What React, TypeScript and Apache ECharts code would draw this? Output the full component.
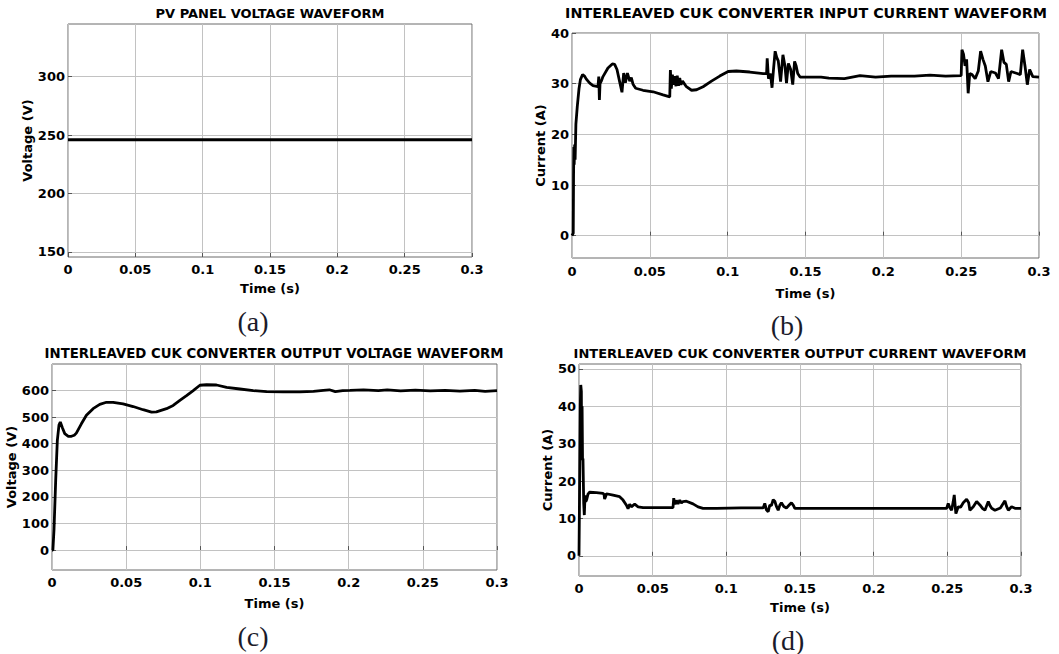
import React, { useEffect, useRef } from "react";
import * as echarts from "echarts";

// ---------- data ----------
const timeTicks = [0, 0.05, 0.1, 0.15, 0.2, 0.25, 0.3];

const pvVoltageTicks = [150, 200, 250, 300];
const pvVoltage: [number, number][] = [
  [0, 246],
  [0.3, 246],
];

const inputCurrentTicks = [0, 10, 20, 30, 40];
const inputCurrent: [number, number][] = [
  [0, 0], [0.0008, 0.5], [0.001, 12], [0.0012, 17.5], [0.0014, 14], [0.0017, 18], [0.002, 15],
  [0.0025, 22], [0.0034, 25.5], [0.0045, 29], [0.0054, 30.8], [0.0068, 31.8], [0.008, 31.5],
  [0.0092, 30.9], [0.0114, 30.1], [0.0135, 29.6], [0.0167, 29.4], [0.0172, 31.4], [0.0176, 26.8],
  [0.018, 30], [0.0188, 30.5], [0.0199, 31.4], [0.0231, 33.1], [0.0259, 33.9], [0.0274, 33.8],
  [0.0289, 32.8], [0.0306, 30.4], [0.0321, 28.3], [0.0332, 32.1], [0.0343, 30.2], [0.0356, 32.1],
  [0.0371, 30.5], [0.0381, 31.2], [0.0392, 29.9], [0.0409, 29.1], [0.0456, 28.7], [0.0521, 28.4],
  [0.0585, 27.8], [0.0628, 27.4], [0.0632, 32.7], [0.0638, 29], [0.0645, 31.8], [0.0652, 29.8],
  [0.066, 31.5], [0.0668, 29.5], [0.0676, 31.6], [0.0684, 29.6], [0.0692, 31.1], [0.07, 29.8],
  [0.071, 30.5], [0.0735, 29.4], [0.0768, 28.7], [0.08, 28.8], [0.0842, 29.4], [0.0896, 30.5],
  [0.0949, 31.5], [0.1003, 32.4], [0.1056, 32.5], [0.1142, 32.3], [0.1228, 32], [0.125, 32],
  [0.1254, 35], [0.1262, 31], [0.1275, 32], [0.1285, 29.2], [0.1295, 33], [0.1305, 36.4],
  [0.1315, 35.2], [0.1325, 34.5], [0.134, 30.4], [0.1355, 35.7], [0.1368, 33.5], [0.1378, 30.1],
  [0.139, 34], [0.1405, 32.8], [0.1418, 29.8], [0.143, 34.4], [0.144, 33.5], [0.145, 32],
  [0.1465, 31.3], [0.16, 31.3], [0.165, 31.1], [0.175, 31.0], [0.185, 31.6], [0.195, 31.3],
  [0.205, 31.5], [0.22, 31.5], [0.23, 31.7], [0.24, 31.5], [0.25, 31.6], [0.2505, 36.7],
  [0.2515, 35.8], [0.2525, 33.5], [0.2535, 34.8], [0.2545, 28.1], [0.2555, 32], [0.257, 31.8],
  [0.259, 31], [0.261, 32.5], [0.2625, 36.4], [0.264, 34.8], [0.2655, 33.5], [0.2672, 30.4],
  [0.269, 32.4], [0.272, 32.1], [0.274, 31], [0.276, 36.7], [0.2775, 34.2], [0.279, 33.8],
  [0.2805, 30.4], [0.282, 32.4], [0.286, 32], [0.288, 31.8], [0.2895, 36.7], [0.291, 33.5],
  [0.2925, 29.8], [0.294, 32.8], [0.296, 31.4], [0.3, 31.3],
];

const outputVoltageTicks = [0, 100, 200, 300, 400, 500, 600];
const outputVoltage: [number, number][] = [
  [0, 0], [0.0006, 0], [0.00135, 77], [0.0025, 264], [0.0036, 413], [0.0047, 470], [0.0056, 482],
  [0.007, 460], [0.0086, 438], [0.011, 428], [0.0131, 428], [0.015, 432], [0.0164, 440],
  [0.0198, 475], [0.0232, 507], [0.0277, 532], [0.0322, 548], [0.0367, 556], [0.0412, 556],
  [0.0479, 550], [0.0547, 540], [0.0614, 528], [0.0671, 519], [0.0704, 520], [0.0772, 532],
  [0.0817, 544], [0.0862, 563], [0.0907, 581], [0.0952, 600], [0.0997, 620], [0.1042, 622],
  [0.1109, 621], [0.1177, 612], [0.1267, 606], [0.1357, 600], [0.1447, 596], [0.1559, 595],
  [0.1672, 595], [0.1762, 597], [0.1829, 601], [0.187, 603], [0.191, 596], [0.196, 600],
  [0.2009, 601], [0.21, 603], [0.22, 600], [0.226, 603], [0.235, 599], [0.245, 602],
  [0.255, 599], [0.265, 601], [0.275, 598], [0.285, 601], [0.292, 597], [0.3, 600],
];

const outputCurrentTicks = [0, 10, 20, 30, 40, 50];
const outputCurrent: [number, number][] = [
  [0, 0], [0.00045, 0], [0.0009, 40.4], [0.0012, 45.7], [0.0016, 44], [0.0018, 25.6], [0.0021, 40],
  [0.0024, 25.6], [0.0027, 26], [0.0032, 14], [0.0036, 10.9], [0.0041, 16.2], [0.0046, 14.5],
  [0.0052, 15], [0.0061, 16.5], [0.0072, 17], [0.0118, 16.9], [0.0163, 16.7], [0.017, 16.4],
  [0.0174, 15.2], [0.018, 15.8], [0.0186, 16.6], [0.0231, 16.2], [0.0276, 15.8], [0.0299, 14.9],
  [0.0321, 13.6], [0.0333, 12.6], [0.0344, 13.8], [0.0355, 13.1], [0.0378, 13.8], [0.0401, 13.1],
  [0.0435, 12.9], [0.0571, 12.9], [0.0638, 12.9], [0.0643, 15.4], [0.0652, 13.8], [0.0661, 14.8],
  [0.0672, 13.9], [0.0684, 14.9], [0.0695, 14.1], [0.0706, 14.5], [0.0729, 14.6], [0.0774, 13.9],
  [0.0808, 13.1], [0.0842, 12.7], [0.0933, 12.7], [0.11, 12.8], [0.125, 12.8], [0.1261, 14],
  [0.1272, 12.3], [0.1284, 11.8], [0.1295, 13.6], [0.1306, 13.4], [0.1318, 15], [0.1329, 14.6],
  [0.134, 13.2], [0.1352, 12.2], [0.1363, 13.5], [0.1374, 14.2], [0.139, 13.2], [0.1408, 12.8],
  [0.1425, 13.5], [0.1442, 14.2], [0.1455, 13.5], [0.1465, 12.7], [0.1589, 12.7], [0.18, 12.7],
  [0.2, 12.7], [0.22, 12.7], [0.2495, 12.7], [0.2506, 14], [0.2518, 12.8], [0.2529, 12.2],
  [0.254, 14.5], [0.2547, 16.3], [0.2553, 13.5], [0.2558, 11.3], [0.2574, 13.1], [0.259, 13],
  [0.2608, 14.2], [0.2631, 15.1], [0.2645, 14.2], [0.2653, 12.2], [0.2676, 13.1], [0.2699, 14.5],
  [0.2721, 13.6], [0.274, 12.6], [0.2755, 12.2], [0.2778, 14.5], [0.279, 13.4], [0.2801, 12.7],
  [0.2823, 12.2], [0.286, 12.8], [0.2891, 14.7], [0.2902, 13.2], [0.2914, 12.2], [0.2936, 13.1],
  [0.2959, 12.7], [0.3, 12.7],
];

const titles = [
  "PV PANEL VOLTAGE WAVEFORM",
  "INTERLEAVED CUK CONVERTER INPUT CURRENT WAVEFORM",
  "INTERLEAVED CUK CONVERTER OUTPUT VOLTAGE WAVEFORM",
  "INTERLEAVED CUK CONVERTER OUTPUT CURRENT WAVEFORM",
];
const yNames = ["Voltage (V)", "Current (A)", "Voltage (V)", "Current (A)"];
const xName = "Time (s)";
const captions = ["(a)", "(b)", "(c)", "(d)"];

// ---------- layout ----------
const FONT = "'DejaVu Sans', 'Liberation Sans', Arial, sans-serif";
const panels = [
  { left: 68, top: 24, width: 404, height: 233, yMin: 145.7, yMax: 345, yTicks: pvVoltageTicks, data: pvVoltage,
    titleX: 270, titleY: 13, titleSize: 13, capX: 253, capY: 321, yGap: 30, xGap: 25, xMargin: 6 },
  { left: 572, top: 33, width: 467, height: 225, yMin: -4.4, yMax: 40, yTicks: inputCurrentTicks, data: inputCurrent,
    titleX: 806, titleY: 13, titleSize: 14.3, capX: 787, capY: 325, yGap: 24, xGap: 29, xMargin: 7 },
  { left: 52, top: 364, width: 445, height: 206, yMin: -75, yMax: 700, yTicks: outputVoltageTicks, data: outputVoltage,
    titleX: 274, titleY: 353, titleSize: 13.3, capX: 253, capY: 636, yGap: 31, xGap: 27, xMargin: 6 },
  { left: 579, top: 364, width: 442, height: 212, yMin: -5.4, yMax: 51.3, yTicks: outputCurrentTicks, data: outputCurrent,
    titleX: 800, titleY: 353, titleSize: 13, capX: 788, capY: 640, yGap: 21, xGap: 25, xMargin: 6 },
];

export default function App() {
  const ref = useRef<HTMLDivElement>(null);
  useEffect(() => {
    if (!ref.current) return;
    const chart = echarts.init(ref.current, undefined, { renderer: "svg" });
    const labelStyle = { color: "#000", fontWeight: "bold" as const, fontFamily: FONT, fontSize: 13 };
    const nameStyle = { color: "#000", fontWeight: "bold" as const, fontFamily: FONT, fontSize: 13 };
    const splitLine = { show: true, lineStyle: { color: "#c2c2c2", width: 1 } };
    const axisTick = { show: true, inside: true, length: 4, lineStyle: { color: "#555" } };
    const option: any = {
      animation: false,
      backgroundColor: "#fff",
      grid: panels.map((p) => ({
        left: p.left, top: p.top, width: p.width, height: p.height,
        show: true, borderColor: "#6a6a6a", borderWidth: 1, backgroundColor: "#fff",
      })),
      xAxis: panels.map((p, i) => ({
        type: "value", gridIndex: i, min: 0, max: 0.3,
        name: xName, nameLocation: "middle", nameGap: p.xGap, nameTextStyle: nameStyle,
        axisLine: { show: false },
        axisTick: { ...axisTick, customValues: timeTicks },
        axisLabel: { ...labelStyle, margin: p.xMargin, customValues: timeTicks,
          formatter: (v: number) => String(+v.toFixed(2)) },
        splitLine,
      })),
      yAxis: panels.map((p, i) => ({
        type: "value", gridIndex: i, min: p.yMin, max: p.yMax,
        name: yNames[i], nameLocation: "middle", nameGap: p.yGap, nameTextStyle: nameStyle,
        axisLine: { show: false },
        axisTick: { ...axisTick, customValues: p.yTicks },
        axisLabel: { ...labelStyle, margin: 3, customValues: p.yTicks },
        splitLine,
      })),
      series: panels.map((p, i) => ({
        type: "line", xAxisIndex: i, yAxisIndex: i, data: p.data,
        showSymbol: false, symbol: "none", clip: true,
        lineStyle: { color: "#000", width: 2.8 },
      })),
      graphic: [
        ...panels.map((p, i) => ({
          type: "text", x: p.titleX, y: p.titleY,
          style: { text: titles[i], font: `bold ${p.titleSize}px ${FONT}`, fill: "#000",
            align: "center", verticalAlign: "middle" },
        })),
        ...panels.map((p, i) => ({
          type: "text", x: p.capX, y: p.capY,
          style: { text: captions[i], font: `28px 'Liberation Serif', 'Times New Roman', serif`, fill: "#1b1b2a",
            align: "center", verticalAlign: "middle" },
        })),
      ],
    };
    chart.setOption(option);
    return () => chart.dispose();
  }, []);
  return (
    <div ref={ref} style={{ position: "absolute", left: 0, top: 0, width: 1059, height: 654 }} />
  );
}
